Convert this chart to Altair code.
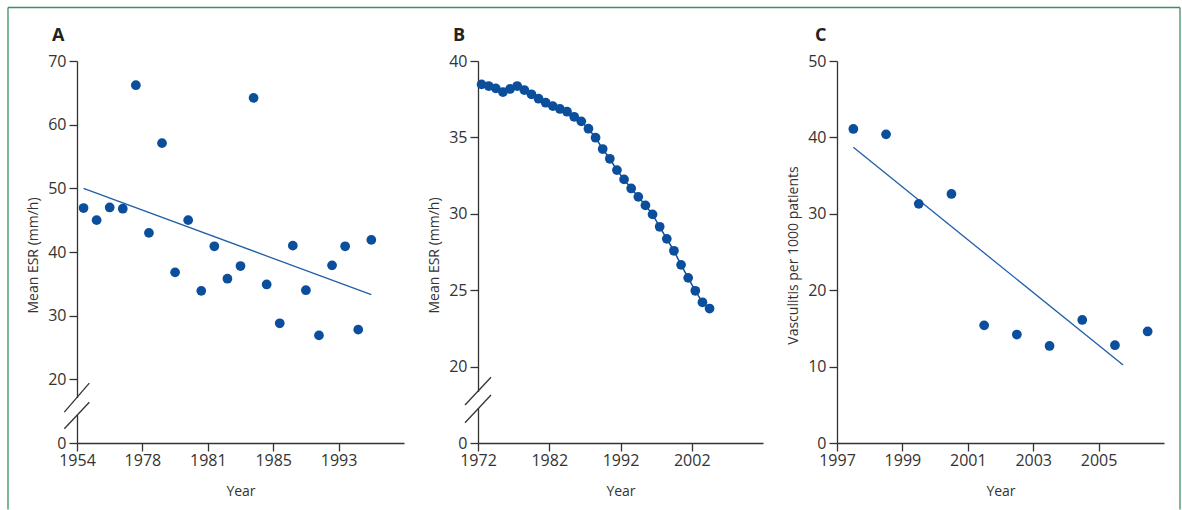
import altair as alt
import pandas as pd

# ---------------- data ----------------
# Panel A: mean ESR per period (index positions on a categorical-like axis)
a_period = [0.5, 1.5, 2.5, 3.5, 4.5, 5.5, 6.5, 7.5, 8.5, 9.5, 10.5, 11.5,
            12.5, 13.5, 14.5, 15.5, 16.5, 17.5, 18.5, 19.5, 20.5, 21.5, 22.5]
a_esr = [46.9, 45.0, 47.0, 46.8, 66.2, 43.0, 57.1, 36.8, 45.0, 33.9, 40.9, 35.8,
         37.8, 64.2, 34.9, 28.8, 41.0, 34.0, 26.9, 37.9, 40.9, 27.8, 41.9]
a_trend_period = [0.5, 22.5]
a_trend_esr = [50.0, 33.3]
a_tick_values = [0, 5, 10, 15, 20]
a_tick_labels = ["1954", "1978", "1981", "1985", "1993"]

# Panel B: mean ESR by year
b_year = [1972, 1973, 1974, 1975, 1976, 1977, 1978, 1979, 1980, 1981, 1982,
          1983, 1984, 1985, 1986, 1987, 1988, 1989, 1990, 1991, 1992, 1993,
          1994, 1995, 1996, 1997, 1998, 1999, 2000, 2001, 2002, 2003, 2004]
b_esr = [38.47, 38.36, 38.21, 37.97, 38.17, 38.36, 38.10, 37.82, 37.53, 37.27,
         37.05, 36.86, 36.68, 36.35, 36.05, 35.57, 34.98, 34.24, 33.60, 32.86,
         32.25, 31.66, 31.11, 30.55, 29.96, 29.15, 28.36, 27.58, 26.66, 25.81,
         24.96, 24.21, 23.80]
b_tick_values = [1972, 1982, 1992, 2002]

# Panel C: vasculitis per 1000 patients
c_year = [1997, 1998, 1999, 2000, 2001, 2002, 2003, 2004, 2005, 2006]
c_rate = [41.1, 40.4, 31.3, 32.6, 15.4, 14.2, 12.7, 16.1, 12.8, 14.6]
c_trend_year = [1997.5, 2005.75]
c_trend_rate = [38.7, 10.2]
c_tick_values = [1997, 1999, 2001, 2003, 2005]

# ---------------- style ----------------
DOT = "#0b4f9c"
LINE = "#1f5fa8"
AX = "#333333"
GREEN = "#3a9060"
FONT = "Open Sans"
DOT_SIZE = 95

W_A, W_B, W_C, H = 327, 285, 327, 382

one = pd.DataFrame({"k": [0]})


def y_axis(values, zero_at, title):
    expr = "datum.label" if zero_at is None else f"datum.value == {zero_at} ? '0' : datum.label"
    return alt.Axis(values=values, labelExpr=expr, title=title, grid=False,
                    titleX=-40, titleY=194, titleAngle=270, titleBaseline="alphabetic",
                    titleAlign="center")


def x_axis(values, width, label_expr=None):
    kw = dict(values=values, title="Year", grid=False, format="d", labelFlush=False,
              labelOverlap=False, titleX=width / 2, titleY=52, titleBaseline="alphabetic",
              titleAlign="center")
    if label_expr is not None:
        kw["labelExpr"] = label_expr
    return alt.Axis(**kw)


def panel_label(text, dx):
    return alt.Chart(pd.DataFrame({"label": [text]})).mark_text(
        align="left", baseline="alphabetic", fontSize=18, fontWeight="bold",
        color="#222222", font=FONT
    ).encode(x=alt.value(dx), y=alt.value(-20.5), text="label:N")


def rule(x, y, x2=None, y2=None, color=AX, width=1.3):
    enc = dict(x=alt.value(x), y=alt.value(y))
    if x2 is not None:
        enc["x2"] = alt.value(x2)
    if y2 is not None:
        enc["y2"] = alt.value(y2)
    return alt.Chart(one).mark_rule(color=color, strokeWidth=width).encode(**enc)


def axis_break(s1, s2, gap):
    # white gap in the y-axis line plus two slashes
    return [
        rule(0, gap[0], y2=gap[1], color="white", width=4),
        rule(s1[0], s1[1], x2=s1[2], y2=s1[3]),
        rule(s2[0], s2[1], x2=s2[2], y2=s2[3]),
    ]


# ---------------- panel A ----------------
dfA = pd.DataFrame({"period": a_period, "esr": a_esr})
dfA_trend = pd.DataFrame({"period": a_trend_period, "esr": a_trend_esr})
labels_js = "[" + ",".join(f"'{s}'" for s in a_tick_labels) + "]"
xA = alt.X("period:Q", scale=alt.Scale(domain=[0, 25], nice=False, zero=False),
           axis=x_axis(a_tick_values, W_A, f"{labels_js}[datum.value / 5]"))
yA = alt.Y("esr:Q", scale=alt.Scale(domain=[10, 70], nice=False, zero=False),
           axis=y_axis([10, 20, 30, 40, 50, 60, 70], 10, "Mean ESR (mm/h)"))

pointsA = alt.Chart(dfA).mark_circle(size=DOT_SIZE, color=DOT, opacity=1).encode(x=xA, y=yA)
trendA = alt.Chart(dfA_trend).mark_line(color=LINE, strokeWidth=1.3).encode(x=xA, y=yA)

frame = [
    rule(-69, -53.5, y2=448.5, color=GREEN, width=1.3),
    rule(-69, -53.5, x2=1103, color=GREEN, width=1.3),
    rule(1103, -53.5, y2=448.5, color=GREEN, width=1.3),
]

panelA = alt.layer(
    *frame, trendA, pointsA,
    *axis_break((-12.7, 351.2, 12.3, 322.2), (-12.7, 367.8, 12.3, 341.2), (337, 354)),
    panel_label("A", -25),
).properties(width=W_A, height=H)

# ---------------- panel B ----------------
dfB = pd.DataFrame({"year": b_year, "esr": b_esr})
xB = alt.X("mid:Q", scale=alt.Scale(domain=[1972, 2012], nice=False, zero=False),
           axis=x_axis(b_tick_values, W_B))
yB = alt.Y("esr:Q", scale=alt.Scale(domain=[15, 40], nice=False, zero=False),
           axis=y_axis([15, 20, 25, 30, 35, 40], 15, "Mean ESR (mm/h)"))
baseB = alt.Chart(dfB).transform_calculate(mid="datum.year + 0.5")
lineB = baseB.mark_line(color=DOT, strokeWidth=1.5).encode(x=xB, y=yB)
pointsB = baseB.mark_circle(size=DOT_SIZE, color=DOT, opacity=1).encode(x=xB, y=yB)

panelB = alt.layer(
    lineB, pointsB,
    *axis_break((-13, 344, 13, 316.3), (-13, 361.7, 13, 334), (331, 347)),
    panel_label("B", -25),
).properties(width=W_B, height=H)

# ---------------- panel C ----------------
dfC = pd.DataFrame({"year": c_year, "rate": c_rate})
dfC_trend = pd.DataFrame({"mid": c_trend_year, "rate": c_trend_rate})
xC = alt.X("mid:Q", scale=alt.Scale(domain=[1997, 2007], nice=False, zero=False),
           axis=x_axis(c_tick_values, W_C))
yC = alt.Y("rate:Q", scale=alt.Scale(domain=[0, 50], nice=False, zero=False),
           axis=y_axis([0, 10, 20, 30, 40, 50], None, "Vasculitis per 1000 patients"))
pointsC = alt.Chart(dfC).transform_calculate(mid="datum.year + 0.5").mark_circle(
    size=DOT_SIZE, color=DOT, opacity=1).encode(x=xC, y=yC)
trendC = alt.Chart(dfC_trend).mark_line(color=LINE, strokeWidth=1.3).encode(x=xC, y=yC)

panelC = alt.layer(trendC, pointsC, panel_label("C", -22)).properties(width=W_C, height=H)

# ---------------- assemble ----------------
chart = alt.hconcat(panelA, panelB, panelC, spacing=74, bounds="flush").properties(
    padding={"left": 7, "top": 6, "right": 0, "bottom": 0}
).configure(font=FONT).configure_view(stroke=None).configure_axis(
    domainColor=AX, domainWidth=1.3, tickColor=AX, tickWidth=1.3, tickSize=8,
    labelColor=AX, labelFont=FONT, labelFontSize=16, labelPadding=1,
    titleColor=AX, titleFont=FONT, titleFontSize=14, titleFontWeight="normal",
).configure_axisY(labelPadding=3)

chart.save("out.html", embed_options={"renderer": "svg", "actions": False})
